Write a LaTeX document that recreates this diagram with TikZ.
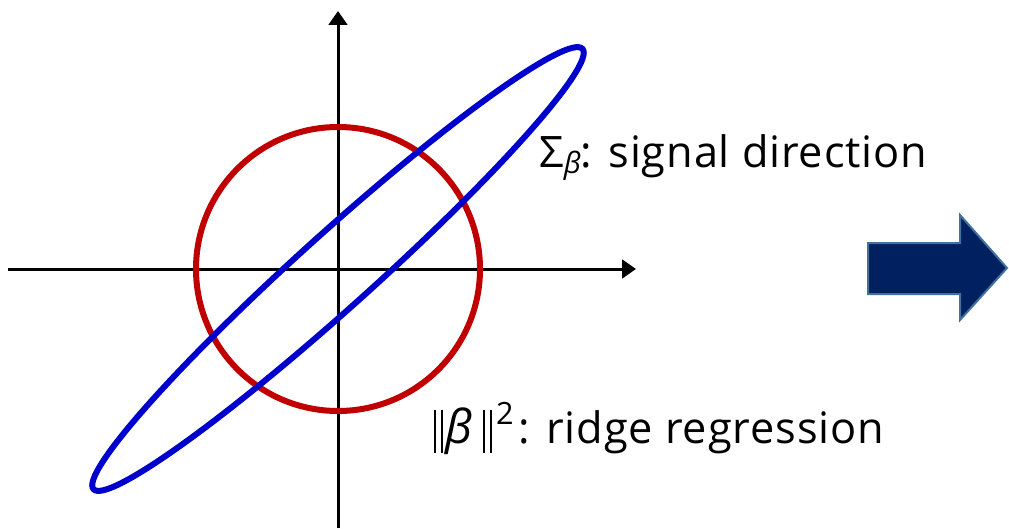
\documentclass[tikz,border=0pt]{standalone}
\usepackage{fontspec}
\setmainfont{Open Sans}
\usetikzlibrary{arrows.meta}
\definecolor{ringred}{HTML}{C00000}
\definecolor{ellblue}{HTML}{0000CC}
\definecolor{navy}{HTML}{002060}
\definecolor{navyedge}{HTML}{41719C}
\newcommand{\onebar}{\rule[-7.5pt]{1.5pt}{32.25pt}}
\newcommand{\bars}{\onebar\kern3.5pt\onebar}
\tikzset{
  axis/.style={line width=2.25pt,-{Triangle[length=10.5pt,width=14pt]}},
  lbl/.style={anchor=base west,inner sep=0pt,font=\fontsize{32.5}{38}\selectfont\addfontfeature{LetterSpace=2}},
}
\begin{document}
\begin{tikzpicture}[x=0.75pt,y=-0.75pt]
\useasboundingbox (0,0) rectangle (1009,528);
\coordinate (O) at (338,269);
\coordinate (xl) at (8,269);
\coordinate (xr) at (636,269);
\coordinate (yb) at (338,528);
\coordinate (yt) at (338,11);
\draw[axis] (xl) -- (xr);
\draw[axis] (yb) -- (yt);
\draw[ringred,line width=4.5pt] (O) circle[radius=142*0.75pt];
\draw[ellblue,line width=4.5pt,rotate around={42:(O)}] (O) ellipse[x radius=329*0.75pt,y radius=37*0.75pt];
\node[lbl] (sig) at (539,167)
  {Σ\raisebox{-4.5pt}{\fontsize{22}{26}\selectfont\itshape β}: signal direction};
\node[lbl] (rid) at (434,443)
  {\bars\kern2pt{\fontsize{35}{38}\selectfont\addfontfeature{LetterSpace=0}\itshape β}\kern8pt\bars\kern3pt\raisebox{14pt}{\fontsize{23}{26}\selectfont 2}\kern4pt:\kern12pt ridge regression};
\draw[fill=navy,draw=navyedge,line width=1.5pt]
  (868,243) -- (960,243) -- (960,215) -- (1007,268) -- (960,320) -- (960,294) -- (868,294) -- cycle;
\end{tikzpicture}
\end{document}
